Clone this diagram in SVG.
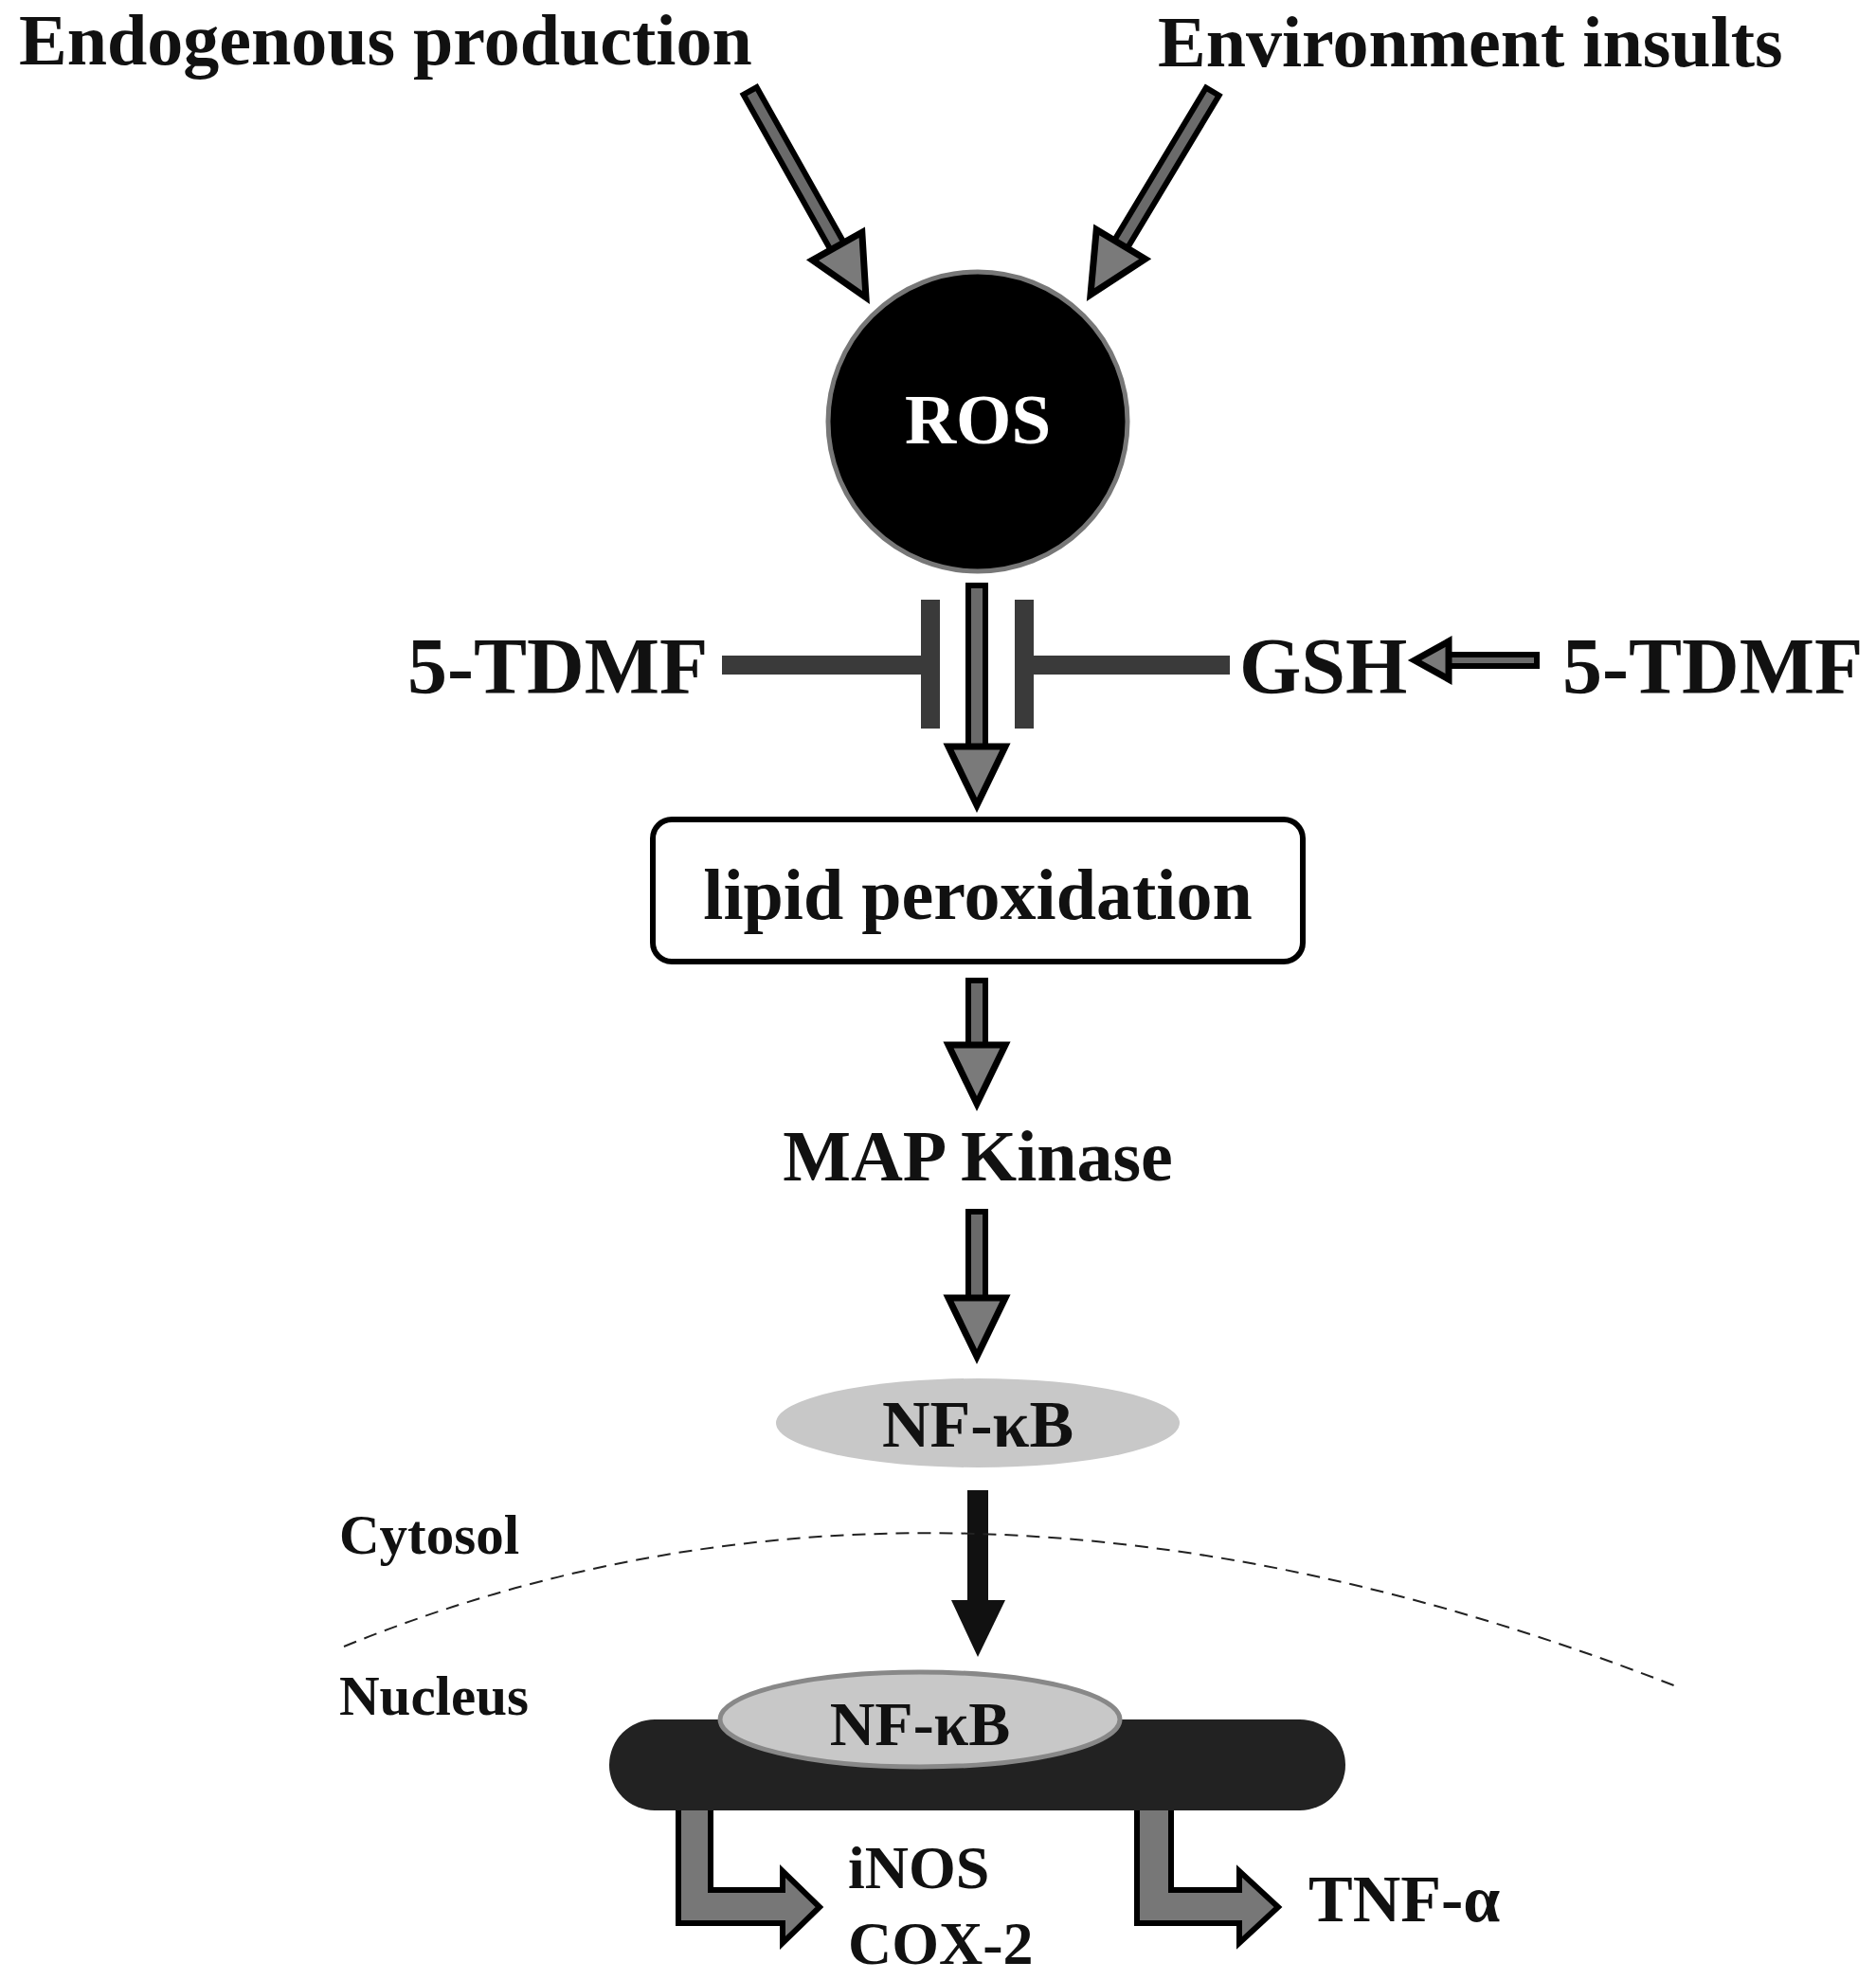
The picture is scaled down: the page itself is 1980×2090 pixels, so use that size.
<svg xmlns="http://www.w3.org/2000/svg" width="1980" height="2090" viewBox="0 0 1980 2090">
<style>
text{font-family:"Liberation Serif","Times New Roman",serif;font-weight:bold;fill:#111}
.sh{fill:#6a6a6a;stroke:#000;stroke-width:6}
.hd{fill:#7a7a7a;stroke:#000;stroke-width:7;stroke-linejoin:miter}
.bar{fill:#3a3a3a}
</style>
<defs>
<polygon id="head" class="hd" points="0,0 -62,-30 -62,30"/>
<polygon id="hsmall" class="hd" points="0,0 -36,-20 -36,20"/>
</defs>
<rect width="1980" height="2090" fill="#fff"/>
<g id="connectors">
  <g transform="translate(914,314) rotate(60.7)"><rect class="sh" x="-250" y="-8" width="200" height="16"/><use href="#head"/></g>
  <g transform="translate(1151,311) rotate(121)"><rect class="sh" x="-250" y="-8" width="200" height="16"/><use href="#head"/></g>
  <rect class="sh" x="1022" y="618" width="18" height="170"/>
  <use href="#head" transform="translate(1031,850) rotate(90)"/>
  <rect class="bar" x="762" y="692" width="210" height="20"/>
  <rect class="bar" x="972" y="633" width="20" height="136"/>
  <rect class="bar" x="1091" y="692" width="207" height="20"/>
  <rect class="bar" x="1071" y="633" width="20" height="136"/>
  <rect class="sh" x="1525" y="691" width="97" height="12"/>
  <use href="#hsmall" transform="translate(1493,697) rotate(180)"/>
  <rect class="sh" x="1022" y="1035" width="18" height="85"/>
  <use href="#head" transform="translate(1031,1165) rotate(90)"/>
  <rect class="sh" x="1022" y="1279" width="18" height="100"/>
  <use href="#head" transform="translate(1031,1432) rotate(90)"/>
  <rect x="1021" y="1573" width="22" height="120" fill="#111"/>
  <polygon points="1004,1689 1061,1689 1032,1749" fill="#111"/>
  <path d="M363,1738 Q998,1479 1769,1780" fill="none" stroke="#222" stroke-width="2" stroke-dasharray="14,9"/>
  <path class="sh" style="fill:#777" d="M716,1908 H750 V1995 H826 V1975 L865,2013 L826,2051 V2030 H716 Z"/>
  <path class="sh" style="fill:#777" d="M1200,1908 H1236 V1995 H1308 V1975 L1349,2013 L1308,2051 V2030 H1200 Z"/>
</g>
<g id="endogenous"><text x="20" y="68" font-size="76">Endogenous production</text></g>
<g id="environment"><text x="1222" y="70" font-size="76">Environment insults</text></g>
<g id="ros"><circle cx="1032" cy="445" r="158" fill="#000" stroke="#777" stroke-width="5"/><text x="1032" y="468" font-size="75" text-anchor="middle" style="fill:#fff">ROS</text></g>
<g id="tdmf-left"><text x="430" y="732" font-size="84">5-TDMF</text></g>
<g id="gsh"><text x="1308" y="732" font-size="84">GSH</text></g>
<g id="tdmf-right"><text x="1649" y="732" font-size="84">5-TDMF</text></g>
<g id="lipid"><rect x="689" y="865" width="686" height="150" rx="20" fill="#fff" stroke="#000" stroke-width="6"/><text x="1032" y="970" font-size="76" text-anchor="middle">lipid peroxidation</text></g>
<g id="map"><text x="1032" y="1246" font-size="76" text-anchor="middle">MAP Kinase</text></g>
<g id="nfkb1"><ellipse cx="1032" cy="1502" rx="213" ry="47" fill="#c8c8c8"/><text x="1032" y="1527" font-size="70" text-anchor="middle">NF-κB</text></g>
<g id="cytosol"><text x="358" y="1640" font-size="59">Cytosol</text></g>
<g id="nucleus"><text x="358" y="1810" font-size="59">Nucleus</text></g>
<g id="dna"><rect x="643" y="1815" width="777" height="96" rx="48" fill="#222"/></g>
<g id="nfkb2"><ellipse cx="971" cy="1815" rx="211" ry="50" fill="#c8c8c8" stroke="#888" stroke-width="5"/><text x="971" y="1842" font-size="66" text-anchor="middle">NF-κB</text></g>
<g id="inos"><text x="895" y="1993" font-size="64">iNOS</text><text x="895" y="2073" font-size="64">COX-2</text></g>
<g id="tnf"><text x="1381" y="2028" font-size="70">TNF-α</text></g>
</svg>
